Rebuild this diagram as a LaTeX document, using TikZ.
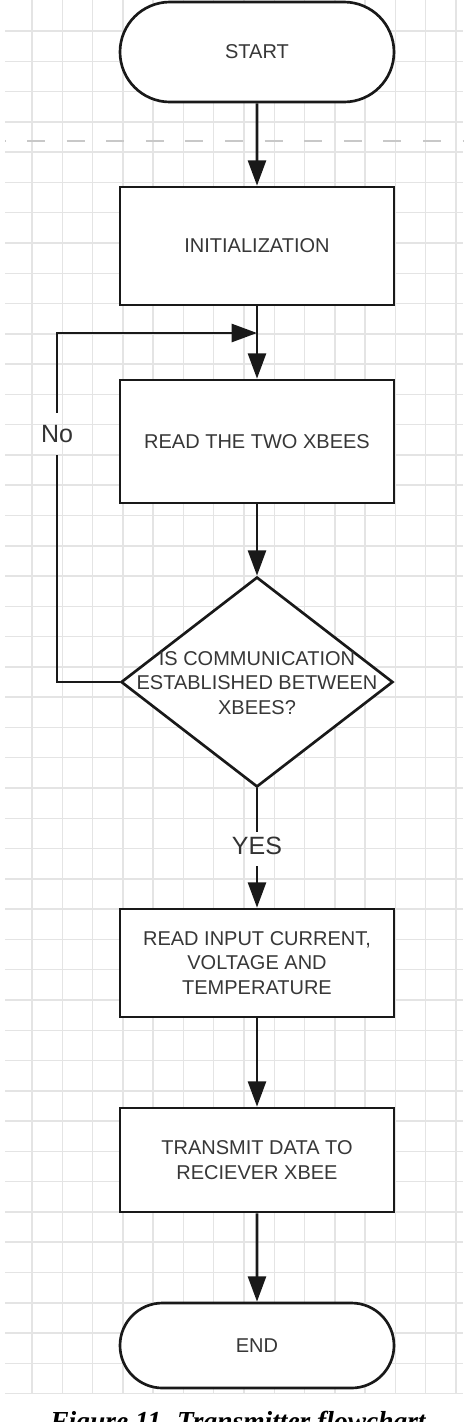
\documentclass[tikz,border=0pt]{standalone}
\usepackage{fontspec}
\setmainfont{Liberation Sans}
\newfontfamily\capfont{Liberation Serif}
\usetikzlibrary{shapes.geometric,shapes.misc,arrows.meta}

\definecolor{gridgray}{RGB}{228,228,228}
\definecolor{guidegray}{RGB}{200,200,200}
\definecolor{inkgray}{RGB}{55,55,55}

\tikzset{every picture/.style={line width=0.75pt}}
\tikzset{
  gridline/.style={draw=gridgray, line width=1.1pt},
  guideline/.style={draw=guidegray, line width=2.2pt, dash pattern=on 13.5pt off 16.2pt, dash phase=13.2pt},
  flowbox/.style={draw=black!90, line width=2pt, fill=white, minimum width=205.5pt, inner sep=0pt,
    text=inkgray, align=center, font=\fontsize{15}{18.4}\selectfont},
  termbox/.style={flowbox, rounded rectangle},
  decbox/.style={draw=black!90, line width=2pt, fill=white, diamond, minimum width=204pt,
    minimum height=157.5pt, inner sep=0pt},
  dectext/.style={text=inkgray, align=center, inner sep=0pt, font=\fontsize{15}{18.4}\selectfont},
  flowline/.style={draw=black!90, line width=2pt},
  flowarrow/.style={flowline, -{Triangle[length=19pt,width=13.5pt]}},
  branchlabel/.style={text=black!80, inner xsep=0pt, font=\fontsize{18.75}{22}\selectfont},
}

\begin{document}
\begin{tikzpicture}[x=0.75pt,y=0.75pt,yscale=-1,xscale=1]
\useasboundingbox (0,0) rectangle (474,1422);

%Grid: background sheet
\foreach \i in {0,...,14}
  \draw[gridline] ({32+30.28*\i},0) -- ({32+30.28*\i},1393);
\foreach \j in {0,...,45}
  \draw[gridline] (5,{31+30.28*\j}) -- (463,{31+30.28*\j});
%Straight Lines: dashed page break
\draw[guideline] (5,141) -- (463,141);

%Shape: Terminator
\node[termbox, minimum height=75pt] (start) at (257,52) {START};
%Shape: Rectangle
\node[flowbox, minimum height=88.5pt] (init) at (257,246) {INITIALIZATION};
%Shape: Rectangle
\node[flowbox, minimum height=92.25pt] (read) at (257,441.5) {READ THE TWO XBEES};
%Shape: Diamond
\node[decbox] (dec) at (257,682) {};
% Text Node
\node[dectext] (dectxt) at (257,683) {IS COMMUNICATION\\ESTABLISHED BETWEEN\\XBEES?};
%Shape: Rectangle
\node[flowbox, minimum height=81pt] (input) at (257,963) {READ INPUT CURRENT,\\VOLTAGE AND\\TEMPERATURE};
%Shape: Rectangle
\node[flowbox, minimum height=78pt] (trans) at (257,1160) {TRANSMIT DATA TO\\RECIEVER XBEE};
%Shape: Terminator
\node[termbox, minimum height=63.75pt] (finish) at (257,1345.5) {END};

% Text Node
\node[branchlabel, inner ysep=9pt] (no) at (57,434) {No};
% Text Node
\node[branchlabel, inner ysep=3.5pt] (yes) at (257,846) {YES};
\coordinate (merge) at (257,333);

%Straight Lines
\draw[flowarrow] (start) -- (init);
\draw[flowarrow] (init) -- (read);
\draw[flowarrow] (read) -- (dec);
\draw[flowline] (dec.west) -| (no.south);
\draw[flowarrow] (no.north) |- (merge);
\draw[flowline] (dec.south) -- (yes.north);
\draw[flowarrow, shorten <=4.7pt] (yes.south) -- (input.north);
\draw[flowarrow] (input) -- (trans);
\draw[flowarrow] (trans) -- (finish);

% Text Node
\node[anchor=north, inner sep=0pt, font={\capfont\fontsize{20.6}{24}\selectfont\bfseries\itshape}] (caption) at (238,1411) {Figure 11. Transmitter flowchart};

\end{tikzpicture}
\end{document}
